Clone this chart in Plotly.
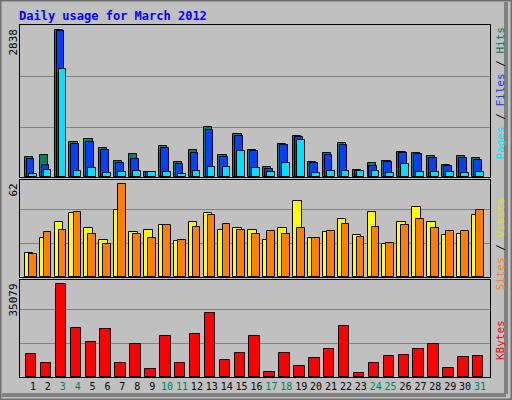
import plotly.graph_objects as go

days = list(range(1, 32))
hits = [379,430,2838,680,725,551,301,436,90,590,282,513,968,417,821,513,186,628,782,282,455,647,128,263,301,474,455,397,224,397,359]
files = [353,224,2816,641,680,526,263,353,90,551,244,468,898,378,782,494,147,609,763,263,417,609,109,205,282,455,436,359,205,359,321]
pages = [51,128,2072,109,167,71,90,109,90,90,51,109,186,186,494,167,90,263,705,71,109,109,109,109,71,244,90,90,90,71,90]
visits = [16.3,26.2,36.5,42.5,32.5,24.4,44.5,29.8,31.1,34.5,23.7,36.5,42.5,31.1,32.5,31.1,24.4,32.5,50.6,25.7,29.8,38.5,27.8,43.2,21.7,36.5,46.6,36.5,27.8,28.4,41.2]
sites = [15.4,29.8,31.1,43.2,28.4,21.7,62,28.4,25.7,34.5,24.4,33.1,41.2,35.1,31.1,28.4,30.4,28.4,32.5,25.7,30.4,35.1,26.4,33.1,22.4,34.5,38.5,32.5,30.4,30.4,44.5]
kbytes = [8577,5120,35079,18560,13184,18176,5120,12416,3200,15488,5120,16256,24320,6272,8960,15488,2048,8960,3968,7040,10496,19328,1664,5120,7808,8192,10496,12416,3584,7424,7808]
weekend = [3,4,10,11,17,18,24,25,31]
max_labels = ["2838", "62", "35079"]

W, H = 512, 400
def yd(top, bot):
    return [1 - bot / H, 1 - top / H]

fig = go.Figure()
line = dict(color="black", width=1)

def bar(y, color, off, w, ax):
    fig.add_trace(go.Bar(x=days, y=y, offset=off, width=w, marker=dict(color=color, line=line),
                         xaxis="x" if ax == "" else "x" + ax, yaxis="y" + ax, showlegend=False, hoverinfo="skip"))

bar(hits, "#008060", -0.55, 0.55, "")
bar(files, "#0040ff", -0.42, 0.52, "")
bar(pages, "#00e0ff", -0.28, 0.52, "")
bar(visits, "#ffff00", -0.55, 0.58, "2")
bar(sites, "#ff8000", -0.28, 0.52, "2")
bar(kbytes, "#ff0000", -0.47, 0.70, "3")

xr = [0.13, 31.67]
xdom = [20 / W, 490 / W]
ticktext = [f"<span style='color:{'#008060' if d in weekend else 'black'}'>{d}</span>" for d in days]
common = dict(range=xr, domain=xdom, showgrid=False, zeroline=False, showline=True, linecolor="black", mirror=True)
fig.update_layout(
    xaxis=dict(**common, anchor="y", showticklabels=False, ticks=""),
    xaxis2=dict(**common, anchor="y2", showticklabels=False, ticks=""),
    xaxis3=dict(**common, anchor="y3", tickvals=days, ticktext=ticktext, ticks="", tickangle=0,
                tickfont=dict(family="DejaVu Sans Mono", size=10)),
)
mx = [max(hits), 62, max(kbytes)]
panels = [(25, 177, 152 / 147.5, [0.339, 0.678]), (180, 277, 97 / 93, [0.361, 0.722]), (280, 377, 97 / 93, [0.361, 0.722])]
for i, (top, bot, f, g) in enumerate(panels):
    key = "yaxis" if i == 0 else f"yaxis{i+1}"
    fig.layout[key] = dict(domain=yd(top, bot), range=[0, mx[i] * f], anchor="x" if i == 0 else f"x{i+1}",
                           tickvals=[mx[i] * v for v in g], showticklabels=False, gridcolor="#808080",
                           gridwidth=1, zeroline=False, showline=True, linecolor="black", mirror=True)
    fig.add_annotation(xref="paper", yref="paper", x=13 / W, y=1 - (top + 2) / H, text=max_labels[i],
                       textangle=-90, showarrow=False, xanchor="center", yanchor="top",
                       font=dict(family="DejaVu Sans Mono", size=11, color="black"))

ann_font = dict(family="DejaVu Sans Mono", size=11)
fig.add_annotation(xref="paper", yref="paper", x=500 / W, y=1 - 25 / H, yanchor="top", xanchor="center", textangle=-90, showarrow=False, font=ann_font,
                   text="<span style='color:#00e0ff'>Pages</span><span style='color:black'> / </span><span style='color:#0040ff'>Files</span><span style='color:black'> / </span><span style='color:#008060'>Hits</span>")
fig.add_annotation(xref="paper", yref="paper", x=500 / W, y=1 - 196 / H, yanchor="top", xanchor="center", textangle=-90, showarrow=False, font=ann_font,
                   text="<span style='color:#ff8000'>Sites</span><span style='color:black'> / </span><span style='color:#e0e000'>Visits</span>")
fig.add_annotation(xref="paper", yref="paper", x=500 / W, y=1 - 318 / H, yanchor="top", xanchor="center", textangle=-90, showarrow=False, font=ann_font,
                   text="<span style='color:#ff0000'>KBytes</span>")
fig.add_annotation(xref="paper", yref="paper", x=17 / W, y=1 - 7 / H, xanchor="left", yanchor="top", showarrow=False,
                   text="<b>Daily usage for March 2012</b>", font=dict(family="DejaVu Sans Mono", size=12, color="#0000ff"))

# frame
fig.add_shape(type="rect", xref="paper", yref="paper", x0=0, y0=0, x1=1, y1=1, line=dict(color="#707070", width=3))
fig.add_shape(type="line", xref="paper", yref="paper", x0=506 / W, y0=1 - 2 / H, x1=506 / W, y1=6 / H, line=dict(color="#808080", width=4))
fig.add_shape(type="line", xref="paper", yref="paper", x0=2 / W, y0=5 / H, x1=506 / W, y1=5 / H, line=dict(color="#808080", width=4))

fig.update_layout(width=W, height=H, margin=dict(l=0, r=0, t=0, b=0), paper_bgcolor="#c0c0c0",
                  plot_bgcolor="#c0c0c0", barmode="overlay", bargap=0)
fig.write_html("out.html", config={"displayModeBar": False},
               post_script="document.body.style.margin='0';document.body.style.overflow='hidden';")
